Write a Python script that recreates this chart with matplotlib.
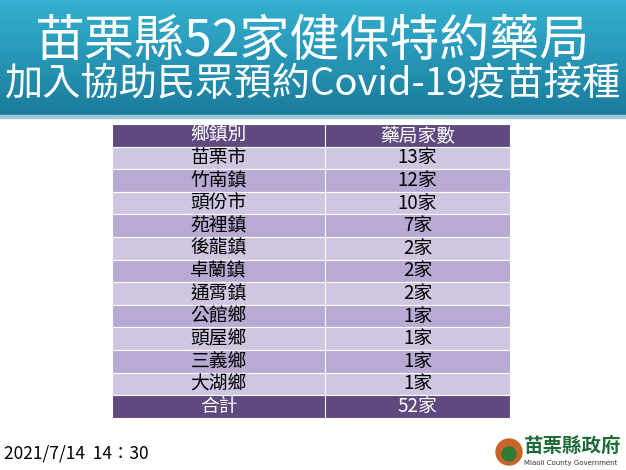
import numpy as np
import matplotlib.pyplot as plt
from matplotlib.patches import Rectangle, Circle

plt.rcParams["font.family"] = "Noto Sans CJK TC"

towns = ["苗栗市", "竹南鎮", "頭份市", "苑裡鎮", "後龍鎮", "卓蘭鎮", "通霄鎮",
         "公館鄉", "頭屋鄉", "三義鄉", "大湖鄉"]
counts = [13, 12, 10, 7, 2, 2, 2, 1, 1, 1, 1]
headers = ["鄉鎮別", "藥局家數"]
total_label = "合計"
title1 = "苗栗縣52家健保特約藥局"
title2 = "加入協助民眾預約Covid-19疫苗接種"
stamp = "2021/7/14  14：30"

W, H = 626, 470
fig = plt.figure(figsize=(W / 100, H / 100), dpi=100)
ax = fig.add_axes([0, 0, 1, 1])
ax.set_xlim(0, W)
ax.set_ylim(H, 0)
ax.axis("off")

# header band gradient
grad = np.linspace(0, 1, 100).reshape(-1, 1)
ax.imshow(grad, extent=[0, W, 115, 0], cmap=plt.matplotlib.colors.LinearSegmentedColormap.from_list(
    "g", ["#34b0d0", "#1b7c9c"]), aspect="auto", zorder=0)
ax.add_patch(Rectangle((0, 115), W, 3, color="#9fc9d6", zorder=1))
ax.text(W / 2, 42, title1, color="white", fontsize=36, ha="center", va="center")
ax.text(W / 2, 85, title2, color="white", fontsize=27.5, ha="center", va="center")

# table
x0, xm, x1 = 112, 325, 510
top, rh = 124, 22.6
purple = "#5f4a7f"
light, dark = "#cfc7e1", "#b8aad3"
rows = [headers] + [[t, f"{c}家"] for t, c in zip(towns, counts)] + [[total_label, f"{sum(counts)}家"]]
for i, (a, b) in enumerate(rows):
    y = top + i * rh
    if i == 0 or i == len(rows) - 1:
        fc, tc = purple, "white"
    else:
        fc, tc = (light if i % 2 == 1 else dark), "black"
    ax.add_patch(Rectangle((x0, y), x1 - x0, rh, facecolor=fc, edgecolor="white", lw=0.8))
    ax.plot([xm, xm], [y, y + rh], color="white", lw=0.8)
    ax.text((x0 + xm) / 2, y + rh / 2, a, color=tc, fontsize=13.5, ha="center", va="center")
    ax.text((xm + x1) / 2, y + rh / 2, b, color=tc, fontsize=13.5, ha="center", va="center")

ax.text(4, 453, stamp, fontsize=12.5, ha="left", va="center", color="black")

# logo
ax.add_patch(Circle((509, 452), 13, color="#c8642a"))
ax.add_patch(Circle((509, 454), 7, color="#2e7d32"))
ax.text(524, 446, "苗栗縣政府", fontsize=14, fontweight="bold", color="#1f6b3a", ha="left", va="center")
ax.text(524, 463, "Miaoli County Government", fontsize=5, color="#333333", ha="left", va="center",
        family="DejaVu Sans")

fig.savefig("out.png", dpi=100)
